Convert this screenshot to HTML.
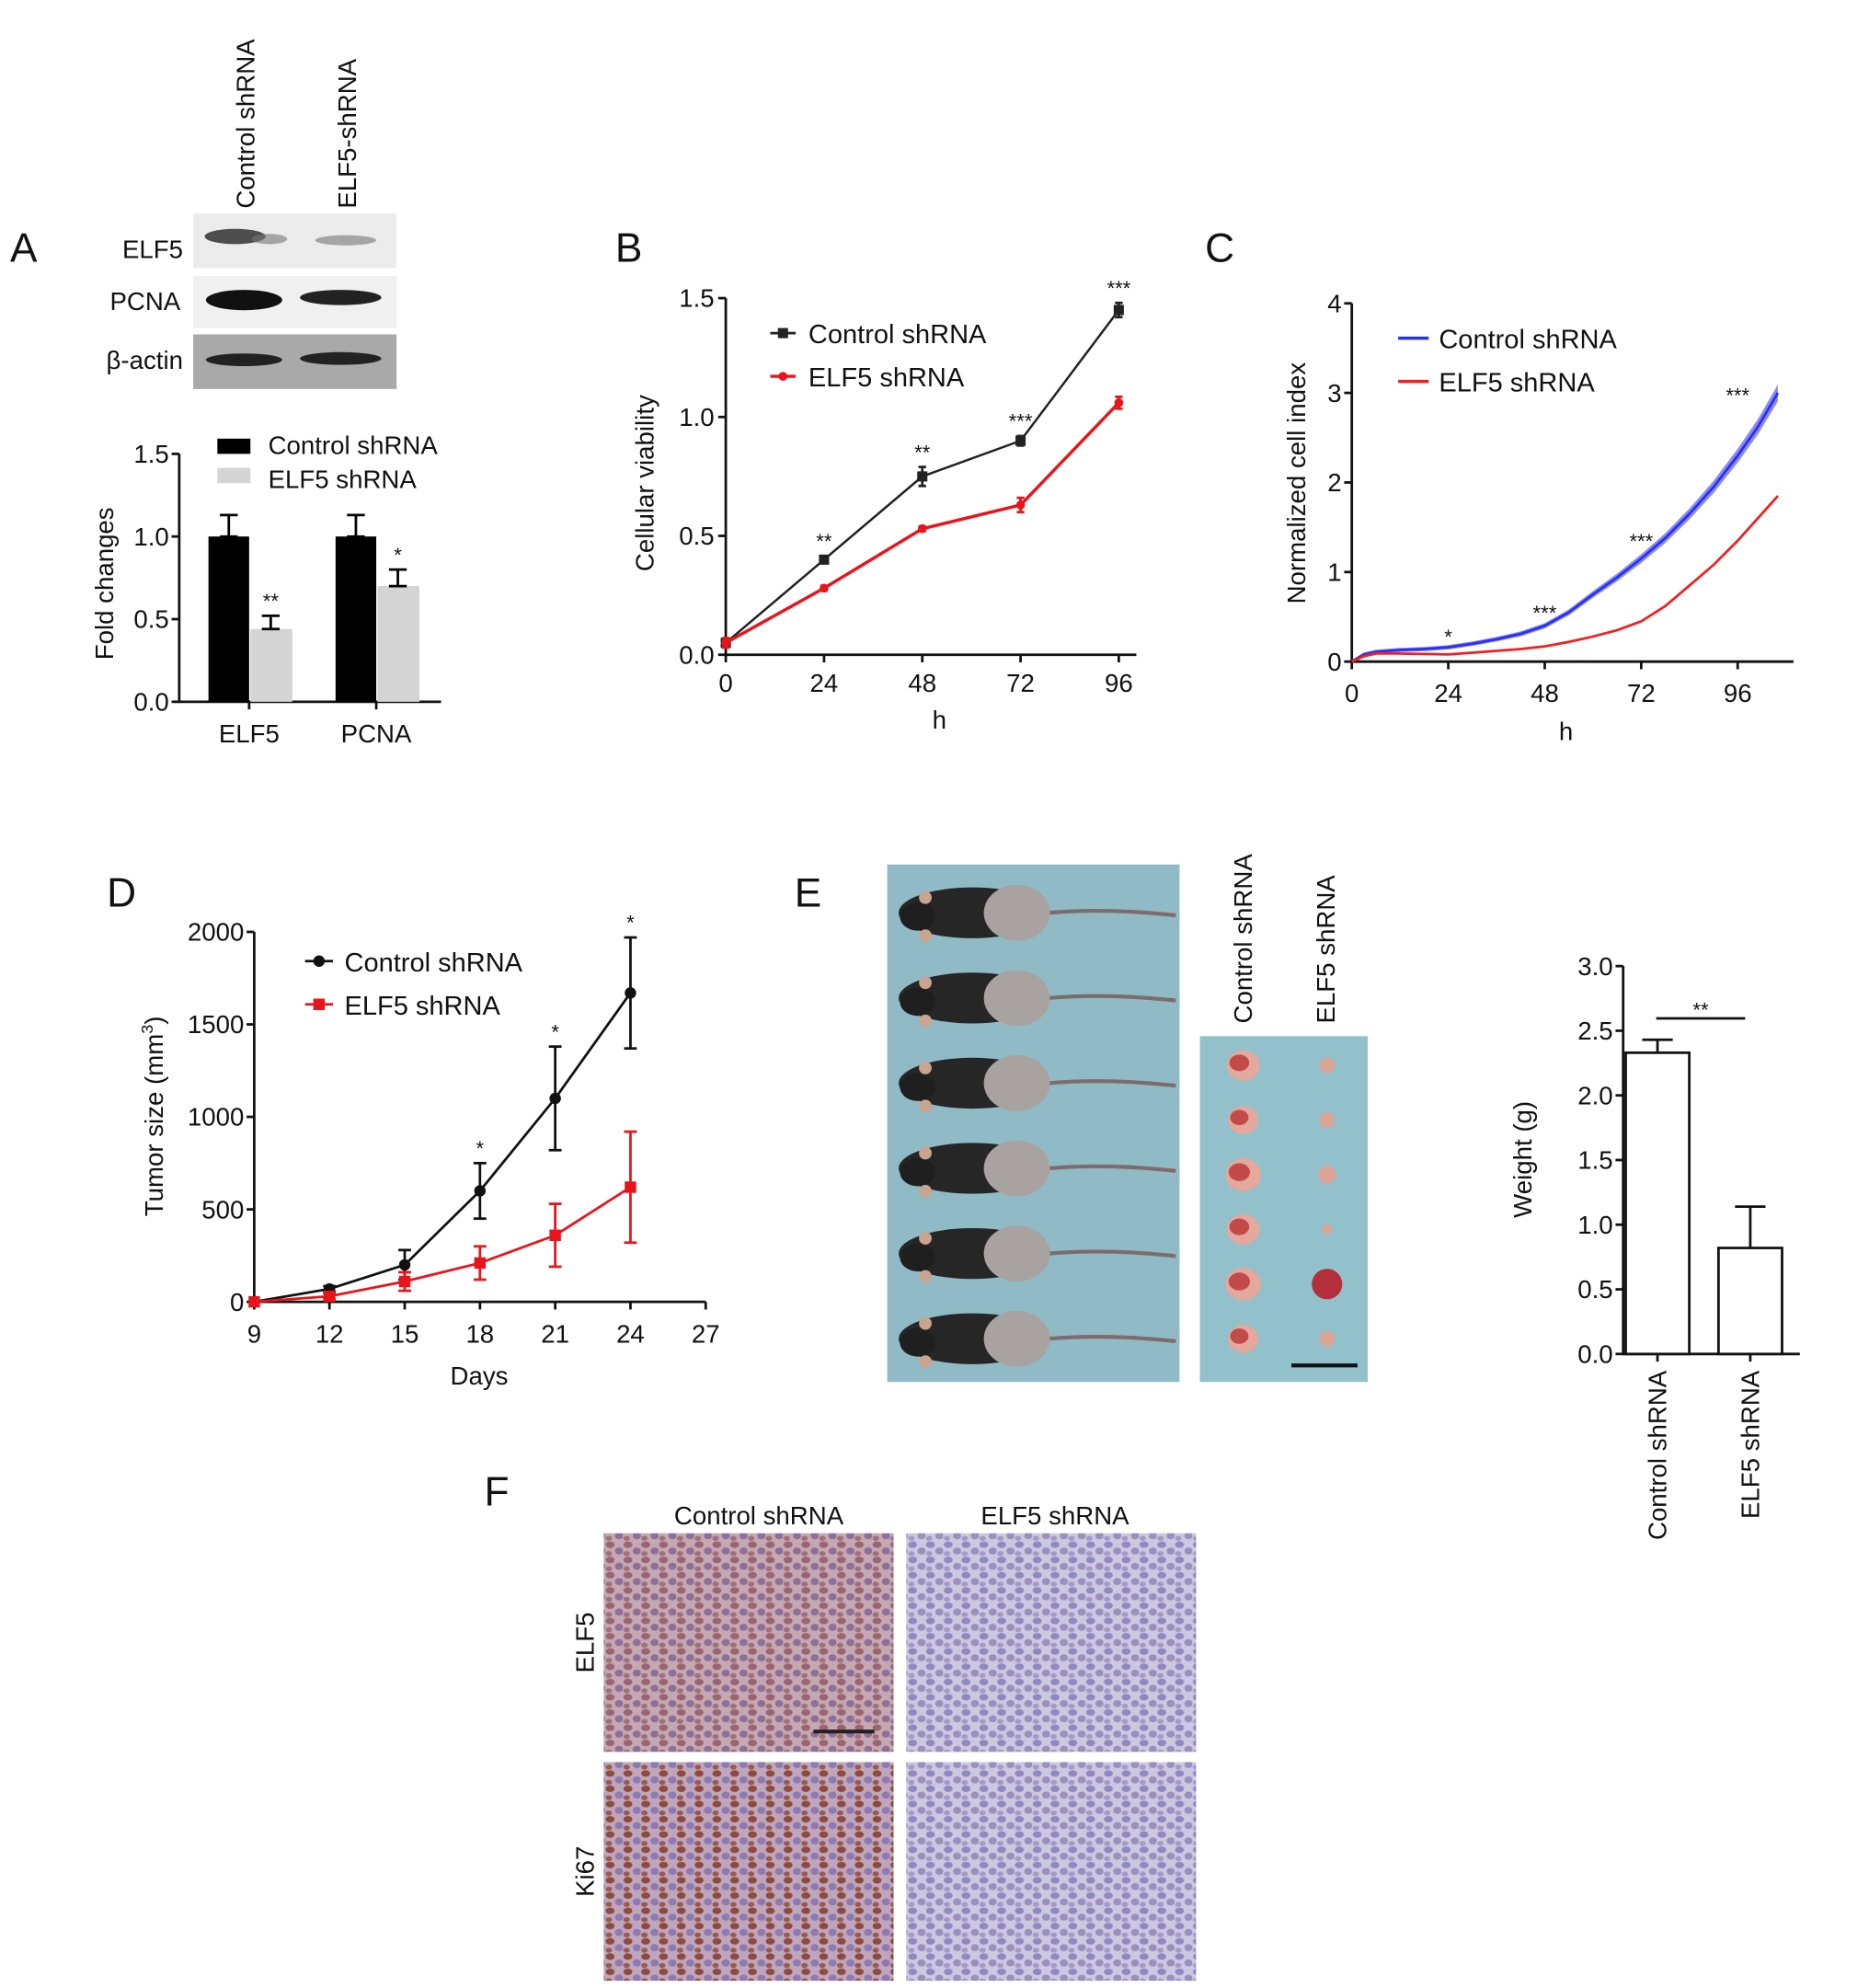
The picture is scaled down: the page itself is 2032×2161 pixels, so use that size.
<!DOCTYPE html>
<html><head><meta charset="utf-8"><style>
html,body{margin:0;padding:0;background:#fff}
svg{display:block}
text{font-family:"Liberation Sans",Arial,sans-serif;fill:#111}
</style></head><body>
<svg id="fig" width="2032" height="2161" viewBox="0 0 1470.4 1563.7" preserveAspectRatio="none" xmlns="http://www.w3.org/2000/svg">
<defs>
<pattern id="pCtl" width="14" height="12" patternUnits="userSpaceOnUse">
<rect width="14" height="12" fill="#c4a8b2"/>
<ellipse cx="4" cy="3" rx="3.5" ry="2.6" fill="#9b6470"/>
<ellipse cx="11" cy="8" rx="3.2" ry="2.8" fill="#8f6f99"/>
<ellipse cx="3" cy="10" rx="2.5" ry="2" fill="#a0707a"/>
</pattern>
<pattern id="pKi" width="14" height="12" patternUnits="userSpaceOnUse">
<rect width="14" height="12" fill="#c0a6bc"/>
<ellipse cx="4" cy="3" rx="3.5" ry="2.6" fill="#8e4a3e"/>
<ellipse cx="11" cy="8" rx="3.2" ry="2.8" fill="#8c7ab0"/>
<ellipse cx="3" cy="10" rx="2.5" ry="2" fill="#9a5a4a"/>
</pattern>
<pattern id="pSh" width="14" height="12" patternUnits="userSpaceOnUse">
<rect width="14" height="12" fill="#cdc8e0"/>
<ellipse cx="4" cy="3" rx="3.5" ry="2.6" fill="#8f88c2"/>
<ellipse cx="11" cy="8" rx="3.2" ry="2.8" fill="#9a8fbf"/>
<ellipse cx="3" cy="10" rx="2.5" ry="2" fill="#a49ac8"/>
</pattern>
</defs>
<g id="static">
<text x="8" y="206" font-size="32">A</text>
<text x="484" y="206" font-size="32">B</text>
<text x="948" y="206" font-size="32">C</text>
<text x="84" y="713" font-size="32">D</text>
<text x="625" y="713" font-size="32">E</text>
<text x="381" y="1184" font-size="32">F</text>

<g>
<text transform="translate(200,164) rotate(-90)" font-size="20">Control shRNA</text>
<text transform="translate(280,164) rotate(-90)" font-size="20">ELF5-shRNA</text>
<rect x="152" y="168" width="160" height="43" fill="#ececec"/>
<ellipse cx="185" cy="186" rx="24" ry="6" fill="#333" opacity="0.85"/>
<ellipse cx="212" cy="188" rx="14" ry="4" fill="#777" opacity="0.6"/>
<ellipse cx="272" cy="189" rx="24" ry="4" fill="#888" opacity="0.7"/>
<rect x="152" y="217" width="160" height="41" fill="#f0f0f0"/>
<ellipse cx="192" cy="236" rx="30" ry="8" fill="#111"/>
<ellipse cx="268" cy="234" rx="32" ry="6" fill="#222"/>
<rect x="152" y="263" width="160" height="43" fill="#a9a9a9"/>
<ellipse cx="192" cy="283" rx="30" ry="5" fill="#222"/>
<ellipse cx="268" cy="282" rx="32" ry="5" fill="#222"/>
<text x="144" y="203" font-size="20" text-anchor="end">ELF5</text>
<text x="142" y="244" font-size="20" text-anchor="end">PCNA</text>
<text x="144" y="290" font-size="20" text-anchor="end">β-actin</text>
</g>

<g>
<rect x="698" y="680" width="230" height="407" fill="#8fbac6"/>
<g id="mice"></g>
</g>
<text transform="translate(985,805) rotate(-90)" font-size="20">Control shRNA</text>
<text transform="translate(1050,805) rotate(-90)" font-size="20">ELF5 shRNA</text>
<g>
<rect x="944" y="815" width="132" height="272" fill="#92c0cb"/>
<g id="tumors"></g>
<line x1="1016" y1="1074" x2="1068" y2="1074" stroke="#111" stroke-width="3"/>
</g>

<text x="597" y="1199" font-size="20" text-anchor="middle">Control shRNA</text>
<text x="830" y="1199" font-size="20" text-anchor="middle">ELF5 shRNA</text>
<text transform="translate(467,1292) rotate(-90)" font-size="20" text-anchor="middle">ELF5</text>
<text transform="translate(467,1472) rotate(-90)" font-size="20" text-anchor="middle">Ki67</text>
<rect x="475" y="1206" width="228" height="172" fill="url(#pCtl)"/>
<rect x="713" y="1206" width="228" height="172" fill="url(#pSh)"/>
<rect x="475" y="1386" width="228" height="172" fill="url(#pKi)"/>
<rect x="713" y="1386" width="228" height="172" fill="url(#pSh)"/>
<line x1="640" y1="1362" x2="688" y2="1362" stroke="#222" stroke-width="3"/>
</g>
<g id="charts"></g>
</svg>
<script>
// Panel A bar chart
const aCategories = ["ELF5", "PCNA"];
const aControl = [1.0, 1.0];
const aControlErr = [0.13, 0.13];
const aShrna = [0.44, 0.70];
const aShrnaErr = [0.08, 0.10];
const aStars = ["**", "*"];
const aTicks = [0.0, 0.5, 1.0, 1.5];
// Panel B
const bHours = [0, 24, 48, 72, 96];
const bControl = [0.05, 0.40, 0.75, 0.90, 1.45];
const bControlErr = [0.01, 0.015, 0.04, 0.02, 0.03];
const bShrna = [0.05, 0.28, 0.53, 0.63, 1.06];
const bShrnaErr = [0.02, 0.01, 0.01, 0.03, 0.025];
const bStars = ["", "**", "**", "***", "***"];
const bYTicks = [0.0, 0.5, 1.0, 1.5];
// Panel C
const cHours = [0, 3, 6, 12, 18, 24, 30, 36, 42, 48, 54, 60, 66, 72, 78, 84, 90, 96, 101, 106];
const cControl = [0, 0.08, 0.11, 0.13, 0.14, 0.16, 0.2, 0.25, 0.31, 0.4, 0.55, 0.75, 0.94, 1.15, 1.38, 1.65, 1.95, 2.3, 2.62, 3.0];
const cShrna = [0, 0.06, 0.09, 0.09, 0.085, 0.08, 0.1, 0.12, 0.14, 0.17, 0.22, 0.28, 0.35, 0.45, 0.62, 0.85, 1.08, 1.35, 1.6, 1.85];
const cStarHours = [24, 48, 72, 96];
const cStarY = [0.28, 0.55, 1.35, 2.98];
const cStars = ["*", "***", "***", "***"];
const cYTicks = [0, 1, 2, 3, 4];
const cXTicks = [0, 24, 48, 72, 96];
// Panel D
const dDays = [9, 12, 15, 18, 21, 24];
const dControl = [0, 70, 200, 600, 1100, 1670];
const dControlErr = [0, 15, 80, 150, 280, 300];
const dShrna = [0, 30, 110, 210, 360, 620];
const dShrnaErr = [0, 15, 50, 90, 170, 300];
const dStars = ["", "", "", "*", "*", "*"];
const dXTicks = [9, 12, 15, 18, 21, 24, 27];
const dYTicks = [0, 500, 1000, 1500, 2000];
// Panel E bar chart
const eCategories = ["Control shRNA", "ELF5 shRNA"];
const eWeights = [2.33, 0.82];
const eErr = [0.10, 0.32];
const eYTicks = [0.0, 0.5, 1.0, 1.5, 2.0, 2.5, 3.0];

const NS = "http://www.w3.org/2000/svg";
const root = document.getElementById('charts');
function mk(tag, attrs, parent, txt) {
  const e = document.createElementNS(NS, tag);
  for (const k in attrs) e.setAttribute(k, attrs[k]);
  if (txt !== undefined) e.textContent = txt;
  (parent || root).appendChild(e);
  return e;
}
function grp(name) {
  const g = mk('g', {});
  
  
  return g;
}
function line(g, x1, y1, x2, y2, c, w) { return mk('line', {x1, y1, x2, y2, stroke: c || '#111', 'stroke-width': w || 2}, g); }
function text(g, x, y, s, size, anchor, extra) {
  const a = {x, y, 'font-size': size || 20, 'text-anchor': anchor || 'middle'};
  if (extra) for (const k in extra) a[k] = extra[k];
  return mk('text', a, g, s);
}
function errbar(g, x, y1, y2, c, cap) {
  line(g, x, y1, x, y2, c, 2);
  line(g, x - cap, y1, x + cap, y1, c, 2);
  line(g, x - cap, y2, x + cap, y2, c, 2);
}

(function () {
  const g = grp('panel-a-bar-chart');
  const y = v => 552 - v * 130;
  const ax = 141;
  line(g, ax, y(0), ax, y(1.5));
  line(g, ax - 1, y(0), 347, y(0));
  aTicks.forEach(t => { line(g, ax - 6, y(t), ax, y(t)); text(g, ax - 8, y(t) + 7, t.toFixed(1), 20, 'end'); });
  const groupX = [196, 296];
  aCategories.forEach((c, i) => {
    const gx = groupX[i];
    const b1 = mk('rect', {x: gx - 32, y: y(aControl[i]), width: 32, height: y(0) - y(aControl[i]), fill: '#000'}, g);
    
    
    errbar(g, gx - 16, y(aControl[i] + aControlErr[i]), y(aControl[i]), '#000', 7);
    const b2 = mk('rect', {x: gx + 1, y: y(aShrna[i]), width: 33, height: y(0) - y(aShrna[i]), fill: '#d4d4d4'}, g);
    
    
    errbar(g, gx + 17, y(aShrna[i] + aShrnaErr[i]), y(aShrna[i]), '#000', 7);
    text(g, gx + 17, y(aShrna[i] + aShrnaErr[i]) - 6, aStars[i], 16);
    line(g, gx, y(0), gx, y(0) + 6);
    text(g, gx, 584, c, 20);
  });
  mk('rect', {x: 171, y: 345, width: 26, height: 12, fill: '#000'}, g);
  text(g, 211, 357, 'Control shRNA', 20, 'start');
  mk('rect', {x: 171, y: 368, width: 26, height: 12, fill: '#d4d4d4'}, g);
  text(g, 211, 384, 'ELF5 shRNA', 20, 'start');
  text(g, 0, 0, 'Fold changes', 20, 'middle', {transform: 'translate(89,459) rotate(-90)'});
})();

(function () {
  const g = grp('panel-b-line-chart');
  const x = h => 571 + h * 77.3 / 24;
  const y = v => 515 - v * 187;
  line(g, x(0), y(0), x(0), y(1.5));
  line(g, x(0) - 1, y(0), 894, y(0));
  bYTicks.forEach(t => { line(g, x(0) - 6, y(t), x(0), y(t)); text(g, x(0) - 9, y(t) + 7, t.toFixed(1), 20, 'end'); });
  bHours.forEach(h => { line(g, x(h), y(0), x(h), y(0) + 6); text(g, x(h), 544, String(h), 20); });
  text(g, 739, 573, 'h', 20);
  text(g, 0, 0, 'Cellular viability', 20, 'middle', {transform: 'translate(514,380) rotate(-90)'});
  const ser = [[bControl, bControlErr, '#222', 'square', 'series-control'], [bShrna, bShrnaErr, '#e8141b', 'circle', 'series-elf5-shrna']];
  ser.forEach(([vals, errs, col, shp, nm]) => {
    const sg = mk('g', {}, g);
    
    
    mk('polyline', {points: vals.map((v, i) => x(bHours[i]) + ',' + y(v)).join(' '), fill: 'none', stroke: col, 'stroke-width': col === '#222' ? 1.8 : 2.5}, sg);
    vals.forEach((v, i) => {
      errbar(sg, x(bHours[i]), y(v + errs[i]), y(v - errs[i]), col, 3);
      if (shp === 'square') mk('rect', {x: x(bHours[i]) - 4, y: y(v) - 4, width: 8, height: 8, fill: col}, sg);
      else mk('circle', {cx: x(bHours[i]), cy: y(v), r: 3.5, fill: col}, sg);
    });
  });
  bStars.forEach((s, i) => { if (s) text(g, x(bHours[i]), y(bControl[i] + bControlErr[i]) - 6, s, 16); });
  line(g, 606, 262, 626, 262, '#222', 2); mk('rect', {x: 612, y: 258, width: 8, height: 8, fill: '#222'}, g);
  text(g, 636, 270, 'Control shRNA', 21, 'start');
  line(g, 606, 296, 626, 296, '#e8141b', 2.5); mk('circle', {cx: 616, cy: 296, r: 3.5, fill: '#e8141b'}, g);
  text(g, 636, 304, 'ELF5 shRNA', 21, 'start');
})();

(function () {
  const g = grp('panel-c-line-chart');
  const x = h => 1063.5 + h * 75.9 / 24;
  const y = v => 520.4 - v * 70.45;
  line(g, x(0), y(0), x(0), y(4));
  line(g, x(0) - 1, y(0), 1411, y(0));
  cYTicks.forEach(t => { line(g, x(0) - 6, y(t), x(0), y(t)); text(g, x(0) - 8, y(t) + 7, String(t), 20, 'end'); });
  cXTicks.forEach(h => { line(g, x(h), y(0), x(h), y(0) + 6); text(g, x(h), 552, String(h), 20); });
  text(g, 1232, 582, 'h', 20);
  text(g, 0, 0, 'Normalized cell index', 20, 'middle', {transform: 'translate(1027,380) rotate(-90)'});
  const upper = cControl.map((v, i) => x(cHours[i]) + ',' + y(v + 0.02 + v * 0.025)).join(' ');
  const lower = cControl.slice().reverse().map((v, i) => x(cHours[cHours.length - 1 - i]) + ',' + y(Math.max(0, v - 0.02 - v * 0.025))).join(' ');
  const band = mk('polygon', {points: upper + ' ' + lower, fill: '#8a8cf5'}, g);
  
  
  const c1 = mk('polyline', {points: cControl.map((v, i) => x(cHours[i]) + ',' + y(v)).join(' '), fill: 'none', stroke: '#2a2ff0', 'stroke-width': 2}, g);
  
  
  const c2 = mk('polyline', {points: cShrna.map((v, i) => x(cHours[i]) + ',' + y(v)).join(' '), fill: 'none', stroke: '#f02020', 'stroke-width': 2}, g);
  
  
  cStars.forEach((s, i) => text(g, x(cStarHours[i]), y(cStarY[i]) + 6, s, 16));
  line(g, 1100, 266, 1124, 266, '#2a2ff0', 2.5);
  text(g, 1132, 274, 'Control shRNA', 21, 'start');
  line(g, 1100, 300, 1124, 300, '#f02020', 2.5);
  text(g, 1132, 308, 'ELF5 shRNA', 21, 'start');
})();

(function () {
  const g = grp('panel-d-line-chart');
  const x = d => 200 + (d - 9) * 59.2 / 3;
  const y = v => 1024 - v * 291 / 2000;
  line(g, x(9), y(0), x(9), y(2000));
  line(g, x(9) - 1, y(0), x(27), y(0));
  dYTicks.forEach(t => { line(g, x(9) - 6, y(t), x(9), y(t)); text(g, x(9) - 8, y(t) + 7, String(t), 20, 'end'); });
  dXTicks.forEach(d => { line(g, x(d), y(0), x(d), y(0) + 6); text(g, x(d), 1056, String(d), 20); });
  text(g, 377, 1089, 'Days', 20);
  const yt = mk('text', {transform: 'translate(128,878) rotate(-90)', 'font-size': 20, 'text-anchor': 'middle'}, g);
  
  
  yt.appendChild(document.createTextNode('Tumor size (mm'));
  mk('tspan', {'font-size': 13, dy: -8}, yt, '3');
  mk('tspan', {dy: 8}, yt, ')');
  const ser = [[dControl, dControlErr, '#111', 'circle', 'series-control'], [dShrna, dShrnaErr, '#e8141b', 'square', 'series-elf5-shrna']];
  ser.forEach(([vals, errs, col, shp, nm]) => {
    const sg = mk('g', {}, g);
    
    
    mk('polyline', {points: vals.map((v, i) => x(dDays[i]) + ',' + y(v)).join(' '), fill: 'none', stroke: col, 'stroke-width': 2}, sg);
    vals.forEach((v, i) => {
      if (errs[i]) errbar(sg, x(dDays[i]), y(v + errs[i]), y(v - errs[i]), col, 5);
      if (shp === 'circle') mk('circle', {cx: x(dDays[i]), cy: y(v), r: 4.5, fill: col}, sg);
      else mk('rect', {x: x(dDays[i]) - 4.5, y: y(v) - 4.5, width: 9, height: 9, fill: col}, sg);
    });
  });
  dStars.forEach((s, i) => { if (s) text(g, x(dDays[i]), y(dControl[i] + dControlErr[i]) - 6, s, 16); });
  line(g, 240, 756, 262, 756, '#111', 2); mk('circle', {cx: 251, cy: 756, r: 4.5, fill: '#111'}, g);
  text(g, 271, 764, 'Control shRNA', 21, 'start');
  line(g, 240, 790, 262, 790, '#e8141b', 2); mk('rect', {x: 246.5, y: 785.5, width: 9, height: 9, fill: '#e8141b'}, g);
  text(g, 271, 798, 'ELF5 shRNA', 21, 'start');
})();

(function () {
  const g = grp('panel-e-bar-chart');
  const y = v => 1065 - v * 101.7;
  const ax = 1277;
  line(g, ax, y(0), ax, y(3));
  line(g, ax - 1, y(0), 1416, y(0));
  eYTicks.forEach(t => { line(g, ax - 6, y(t), ax, y(t)); text(g, ax - 8, y(t) + 7, t.toFixed(1), 20, 'end'); });
  const bx = [1279, 1352];
  eCategories.forEach((c, i) => {
    const b = mk('rect', {x: bx[i], y: y(eWeights[i]), width: 50, height: y(0) - y(eWeights[i]), fill: '#fff', stroke: '#111', 'stroke-width': 2}, g);
    
    
    const cx = bx[i] + 25;
    line(g, cx, y(eWeights[i]), cx, y(eWeights[i] + eErr[i]));
    line(g, cx - 12, y(eWeights[i] + eErr[i]), cx + 12, y(eWeights[i] + eErr[i]));
    line(g, cx, y(0), cx, y(0) + 6);
    text(g, 0, 0, c, 20, 'end', {transform: 'translate(' + (cx + 7) + ',1078) rotate(-90)'});
  });
  line(g, 1303, 801, 1373, 801);
  text(g, 1338, 800, '**', 16);
  text(g, 0, 0, 'Weight (g)', 20, 'middle', {transform: 'translate(1205,912) rotate(-90)'});
})();

(function () {
  const m = document.getElementById('mice');
  const rows = [0, 1, 2, 3, 4, 5];
  rows.forEach(r => {
    const cy = 718 + r * 67;
    mk('path', {d: 'M825 ' + cy + ' Q870 ' + (cy - 4) + ' 925 ' + (cy + 2), fill: 'none', stroke: '#7d6c6a', 'stroke-width': 3}, m);
    mk('ellipse', {cx: 765, cy: cy, rx: 58, ry: 20, fill: '#262626'}, m);
    mk('ellipse', {cx: 800, cy: cy, rx: 26, ry: 22, fill: '#a8a3a0'}, m);
    mk('ellipse', {cx: 722, cy: cy + 3, rx: 14, ry: 11, fill: '#1f1f1f'}, m);
    mk('circle', {cx: 728, cy: cy - 12, r: 5, fill: '#c9a48e'}, m);
    mk('circle', {cx: 728, cy: cy + 18, r: 5, fill: '#c9a48e'}, m);
  });
  const t = document.getElementById('tumors');
  const big = [13, 12, 14, 13, 14, 12];
  const small = [6, 6, 7, 4, 12, 6];
  rows.forEach(r => {
    const cy = 838 + r * 43;
    mk('ellipse', {cx: 978, cy: cy, rx: big[r], ry: big[r] - 1, fill: '#e2a99c'}, t);
    mk('ellipse', {cx: 975, cy: cy - 2, rx: big[r] * 0.6, ry: big[r] * 0.5, fill: '#c24a48'}, t);
    mk('ellipse', {cx: 1044, cy: cy, rx: small[r], ry: small[r], fill: small[r] > 9 ? '#b3303a' : '#dca495'}, t);
  });
})();
</script>
</body></html>
